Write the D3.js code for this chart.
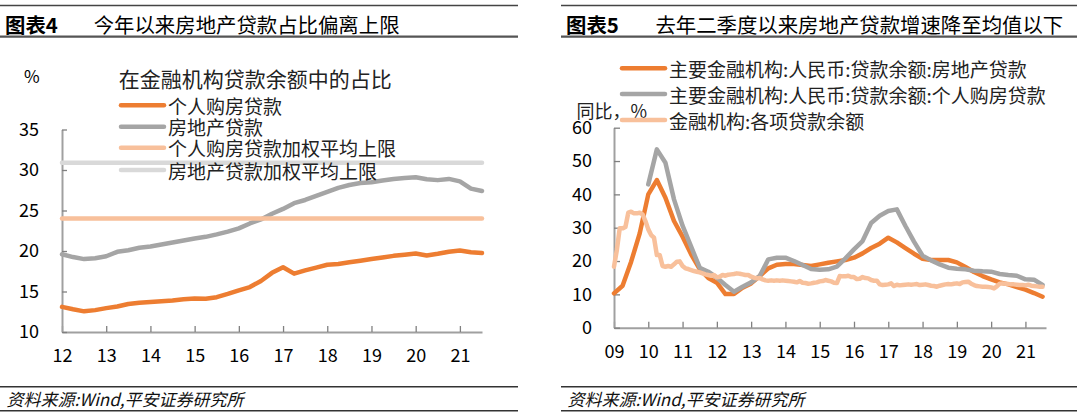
<!DOCTYPE html>
<html><head><meta charset="utf-8">
<script src="https://cdn.jsdelivr.net/npm/d3@7"></script>
<style>
html,body{margin:0;padding:0;background:#fff;}
svg{display:block;}
text{font-family:"Noto Sans CJK SC","Noto Sans",sans-serif;}
</style></head><body>
<svg id="c" width="1080" height="417"></svg>
<script>
// ---------------- DATA ----------------
// Left chart: quarterly, starting 2012 Q1
const leftStartYear = 2012;
const leftMortgageShare = [13.1,12.8,12.55,12.7,12.95,13.15,13.45,13.6,13.7,13.8,13.9,14.05,14.15,14.1,14.3,14.7,15.15,15.55,16.3,17.3,18.0,17.2,17.6,17.95,18.3,18.4,18.6,18.8,19.0,19.2,19.4,19.55,19.7,19.45,19.65,19.9,20.05,19.85,19.75];
const leftRealEstateShare = [19.6,19.25,19.0,19.1,19.35,19.9,20.1,20.4,20.55,20.8,21.05,21.3,21.55,21.75,22.05,22.4,22.8,23.4,23.9,24.6,25.2,25.9,26.3,26.8,27.3,27.8,28.15,28.4,28.5,28.7,28.9,29.0,29.1,28.85,28.75,28.9,28.6,27.7,27.4];
const leftMortgageCap = 24.0;
const leftRealEstateCap = 30.9;
const leftXTicks = [2012,2013,2014,2015,2016,2017,2018,2019,2020,2021];
const leftXLabels = ["12","13","14","15","16","17","18","19","20","21"];
const leftYTicks = [10,15,20,25,30,35];
const leftLegend = ["个人购房贷款","房地产贷款","个人购房贷款加权平均上限","房地产贷款加权平均上限"];

// Right chart
const rightRealEstateStart = 2009;   // quarterly
const rightRealEstateGrowth = [10.3,12.6,19.8,28.3, 40.0,44.3,39.0,32.0, 27.3,22.0,17.6,14.9, 13.5,10.1,10.1,12.0, 13.3,15.5,17.8,18.9, 19.1,19.1,18.8,18.5, 19.0,19.5,19.9,20.3, 21.0,22.3,23.9,25.2, 27.0,25.6,23.9,22.2, 20.7,20.3,20.3,20.3, 19.6,18.2,16.7,15.5, 14.5,13.6,13.0,12.2, 11.4,10.4,9.3];
const rightMortgageStart = 2010;     // quarterly
const rightMortgageGrowth = [43.0,53.5,49.5,38.5, 30.6,24.3,18.0,16.8, 15.0,12.8,10.8,12.3, 13.6,15.5,20.5,21.0, 21.0,20.0,18.8,17.6, 17.4,17.5,18.3,20.8, 23.5,26.0,31.4,33.6, 35.0,35.5,30.5,25.8, 21.6,20.2,19.0,18.0, 17.7,17.5,17.1,16.9, 16.8,16.1,15.8,15.6, 14.5,14.4,12.8];
const rightTotalStart = 2009;        // monthly
const rightTotalLoanGrowth = [
 18.3,23.3,29.8,29.8,30.2,34.5,34.8,34.3,34.3,34.5,34.0,32.0,
 29.5,27.8,27.0,21.8,21.8,18.5,18.3,18.5,18.3,19.0,19.8,19.9,
 18.5,17.8,17.6,17.3,17.0,16.8,16.6,16.3,16.0,15.8,15.6,15.8,
 15.1,15.3,15.8,15.6,15.9,16.0,16.1,16.3,16.2,16.0,15.8,15.8,
 15.3,15.0,14.8,14.9,14.5,14.2,14.1,14.2,14.1,14.2,14.1,14.2,
 14.1,14.0,13.9,13.8,13.6,14.0,13.5,13.4,13.2,13.3,13.5,13.6,
 13.9,14.0,14.3,14.1,13.9,13.5,13.4,15.5,15.4,15.4,15.6,15.2,
 15.2,14.6,14.7,15.2,14.9,14.8,14.3,14.1,14.1,13.0,12.8,12.9,
 13.0,13.3,12.5,12.9,12.7,12.8,12.9,13.0,12.9,13.0,13.1,12.8,
 12.9,13.0,12.8,12.6,12.5,12.3,12.6,12.8,13.0,13.1,13.0,13.2,
 13.3,13.1,13.6,13.7,13.8,13.2,12.8,12.5,12.4,12.3,12.3,12.2,
 12.1,11.8,12.4,13.2,13.3,13.2,13.1,13.0,13.0,12.9,12.8,12.8,
 12.7,12.9,12.6,12.5,12.4,12.3,12.3];
const rightXTicks = [2009,2010,2011,2012,2013,2014,2015,2016,2017,2018,2019,2020,2021];
const rightXLabels = ["09","10","11","12","13","14","15","16","17","18","19","20","21"];
const rightYTicks = [0,10,20,30,40,50,60];
const rightLegend = ["主要金融机构:人民币:贷款余额:房地产贷款","主要金融机构:人民币:贷款余额:个人购房贷款","金融机构:各项贷款余额"];

// ---------------- STYLE ----------------
const C_OR = "#ED7D31", C_GR = "#A5A5A5", C_LOR = "#F8C09B", C_LGR = "#D9D9D9";
const NUMFONT = '"Liberation Sans", Arial, sans-serif';
const svg = d3.select("#c");

function frame(x0, x1, tag, title, tagX, titleX) {
  const g = svg.append("g");
  g.append("line").attr("x1",x0).attr("x2",x1).attr("y1",5.5).attr("y2",5.5).attr("stroke","#444").attr("stroke-width",1.3);
  g.append("line").attr("x1",x0).attr("x2",x1).attr("y1",36.7).attr("y2",36.7).attr("stroke","#555").attr("stroke-width",2.2);
  g.append("text").attr("x",tagX).attr("y",23.5).attr("dominant-baseline","central").attr("font-size",20.4).attr("font-weight","bold").attr("fill","#000").text(tag);
  g.append("text").attr("x",titleX).attr("y",23.5).attr("dominant-baseline","central").attr("font-size",20.4).attr("fill","#000").text(title);
  g.append("line").attr("x1",x0).attr("x2",x1).attr("y1",386.7).attr("y2",386.7).attr("stroke","#333").attr("stroke-width",1.5);
  g.append("line").attr("x1",x0).attr("x2",x1).attr("y1",410.7).attr("y2",410.7).attr("stroke","#333").attr("stroke-width",1.5);
  g.append("text").attr("x",tagX+1.5).attr("y",398.5).attr("dominant-baseline","central").attr("font-size",17).attr("font-style","italic").attr("fill","#111").text("资料来源:Wind,平安证券研究所");
}

function styleAxis(g) {
  g.select(".domain").attr("stroke","#A0A0A0").attr("stroke-width",2);
  g.selectAll(".tick line").attr("stroke","#808080").attr("stroke-width",1.3);
  g.selectAll(".tick text").attr("font-family",NUMFONT).attr("font-size",18).attr("fill","#000");
}

function legend(items, colors, x, ys, len, fs) {
  items.forEach((t,i) => {
    svg.append("line").attr("x1",x).attr("x2",x+len).attr("y1",ys[i]).attr("y2",ys[i])
      .attr("stroke",colors[i]).attr("stroke-width",4.5).attr("stroke-linecap","round");
    svg.append("text").attr("x",x+len+4).attr("y",ys[i]).attr("dominant-baseline","central")
      .attr("font-size",fs).attr("fill","#222").text(t);
  });
}

// ---------------- LEFT ----------------
frame(0, 518, "图表4", "今年以来房地产贷款占比偏离上限", 5, 93.7);
const xL = d3.scaleLinear().domain([2012, 2021.5]).range([62, 482]);
const yL = d3.scaleLinear().domain([10, 35]).range([332, 129.5]);

const gLx = svg.append("g").attr("transform",`translate(0,${yL(10)})`)
  .call(d3.axisBottom(xL).tickValues(leftXTicks).tickFormat((d,i)=>leftXLabels[i]).tickSizeInner(-6).tickSizeOuter(0).tickPadding(17.7));
styleAxis(gLx);
const gLy = svg.append("g").attr("transform",`translate(${xL(2012)},0)`)
  .call(d3.axisLeft(yL).tickValues(leftYTicks).tickSizeInner(-5).tickSizeOuter(0).tickPadding(23));
styleAxis(gLy);

const qx = (start) => (d,i) => xL(start + i/4);
const lineL = (start) => d3.line().x(qx(start)).y(d=>yL(d)).curve(d3.curveLinear);
function drawPath(d, gen, color, w) {
  svg.append("path").datum(d).attr("d",gen).attr("fill","none").attr("stroke",color)
    .attr("stroke-width",w).attr("stroke-linejoin","round").attr("stroke-linecap","round");
}
drawPath(leftMortgageShare, lineL(leftStartYear), C_OR, 4.5);
drawPath(leftRealEstateShare, lineL(leftStartYear), C_GR, 4.5);
const capLine = d3.line().x(d=>xL(d[0])).y(d=>yL(d[1]));
drawPath([[xL.domain()[0],leftMortgageCap],[xL.domain()[1],leftMortgageCap]], capLine, C_LOR, 4.5);
drawPath([[xL.domain()[0],leftRealEstateCap],[xL.domain()[1],leftRealEstateCap]], capLine, C_LGR, 4.5);

svg.append("text").attr("x",24).attr("y",75).attr("dominant-baseline","central").attr("font-family",NUMFONT).attr("font-size",17).attr("fill","#000").text("%");
svg.append("text").attr("x",118.8).attr("y",77.5).attr("dominant-baseline","central").attr("font-size",21).attr("fill","#222").text("在金融机构贷款余额中的占比");
legend(leftLegend, [C_OR,C_GR,C_LOR,C_LGR], 121, [105.3,126.7,147.7,170], 43, 19);

// ---------------- RIGHT ----------------
frame(561, 1077, "图表5", "去年二季度以来房地产贷款增速降至均值以下", 566, 655.4);
const xR = d3.scaleLinear().domain([2009, 2021.6]).range([614, 1046]);
const yR = d3.scaleLinear().domain([0, 60]).range([327.7, 127.7]);

const gRx = svg.append("g").attr("transform",`translate(0,${yR(0)})`)
  .call(d3.axisBottom(xR).tickValues(rightXTicks).tickFormat((d,i)=>rightXLabels[i]).tickSizeInner(-6).tickSizeOuter(0).tickPadding(17.6));
styleAxis(gRx);
const gRy = svg.append("g").attr("transform",`translate(${xR(2009)},0)`)
  .call(d3.axisLeft(yR).tickValues(rightYTicks).tickSizeInner(-6).tickSizeOuter(0).tickPadding(22));
styleAxis(gRy);

const lineRq = (start) => d3.line().x((d,i)=>xR(start + i/4)).y(d=>yR(d));
const lineRm = (start) => d3.line().x((d,i)=>xR(start + i/12)).y(d=>yR(d));
drawPath(rightRealEstateGrowth, lineRq(rightRealEstateStart), C_OR, 4.5);
drawPath(rightMortgageGrowth, lineRq(rightMortgageStart), C_GR, 4.5);
drawPath(rightTotalLoanGrowth, lineRm(rightTotalStart), C_LOR, 4.5);

svg.append("text").attr("x",576.5).attr("y",110).attr("dominant-baseline","central").attr("font-size",18).attr("fill","#222").text("同比，%");
legend(rightLegend, [C_OR,C_GR,C_LOR], 622, [68.3,94,120], 43, 19);
</script></body></html>
